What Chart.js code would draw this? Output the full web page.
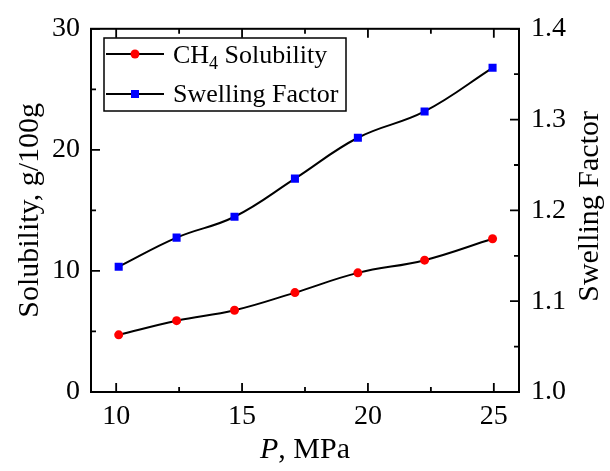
<!DOCTYPE html>
<html>
<head>
<meta charset="utf-8">
<script src="https://cdn.jsdelivr.net/npm/chart.js@4"></script>
<style>
  html, body { margin: 0; padding: 0; background: #fff; }
</style>
</head>
<body>
<canvas id="myChart" width="610" height="471"></canvas>
<script>
const pressure = [10.1, 12.4, 14.7, 17.1, 19.6, 22.25, 24.95];
const solubility = [4.72, 5.89, 6.75, 8.21, 9.84, 10.89, 12.66];
const swelling = [1.138, 1.170, 1.193, 1.235, 1.280, 1.309, 1.357];

const xTicks = [10, 15, 20, 25];
const xMinor = [12.5, 17.5, 22.5];
const yTicks = [0, 10, 20, 30];
const yMinor = [5, 15, 25];
const y1Ticks = [1.0, 1.1, 1.2, 1.3, 1.4];
const y1Minor = [1.05, 1.15, 1.25, 1.35];

const FONT = "'Liberation Serif', 'Times New Roman', serif";

const ctx = document.getElementById('myChart');

// frame, inner ticks, extra titles and the legend box
const decor = {
  id: 'decor',
  afterDraw(chart) {
    const c = chart.ctx;
    const a = chart.chartArea;
    const x = chart.scales.x, y = chart.scales.y, y1 = chart.scales.y1;
    c.save();
    c.strokeStyle = '#000';
    c.lineWidth = 2;
    c.strokeRect(a.left, a.top, a.right - a.left, a.bottom - a.top);

    c.lineWidth = 1.8;
    c.beginPath();
    const xt = (vals, len) => vals.forEach(v => {
      const px = x.getPixelForValue(v);
      c.moveTo(px, a.bottom); c.lineTo(px, a.bottom - len);
      c.moveTo(px, a.top); c.lineTo(px, a.top + len);
    });
    xt(xTicks, 9); xt(xMinor, 5);
    const yt = (vals, len) => vals.forEach(v => {
      const py = y.getPixelForValue(v);
      c.moveTo(a.left, py); c.lineTo(a.left + len, py);
    });
    yt(yTicks, 9); yt(yMinor, 5);
    const y1t = (vals, len) => vals.forEach(v => {
      const py = y1.getPixelForValue(v);
      c.moveTo(a.right, py); c.lineTo(a.right - len, py);
    });
    y1t(y1Ticks, 9); y1t(y1Minor, 5);
    c.stroke();

    // x title: italic P, then ", MPa"
    c.fillStyle = '#000';
    c.textBaseline = 'alphabetic';
    c.textAlign = 'left';
    c.font = 'italic 30px ' + FONT;
    const wP = c.measureText('P').width;
    c.font = '30px ' + FONT;
    const wR = c.measureText(', MPa').width;
    const sx = (a.left + a.right) / 2 - (wP + wR) / 2;
    c.font = 'italic 30px ' + FONT;
    c.fillText('P', sx, 458);
    c.font = '30px ' + FONT;
    c.fillText(', MPa', sx + wP, 458);

    // right title, reading bottom to top
    c.save();
    c.translate(590, (a.top + a.bottom) / 2 - 4);
    c.rotate(-Math.PI / 2);
    c.textAlign = 'center';
    c.textBaseline = 'middle';
    c.font = '30px ' + FONT;
    c.fillText('Swelling Factor', 0, 0);
    c.restore();

    // legend
    c.fillStyle = '#fff';
    c.fillRect(104, 38, 242, 73);
    c.lineWidth = 1.5;
    c.strokeStyle = '#000';
    c.strokeRect(104, 38, 242, 73);
    const rows = [{ yc: 54, color: 'red', shape: 'circle' },
                  { yc: 94, color: 'blue', shape: 'rect' }];
    rows.forEach(r => {
      c.beginPath();
      c.lineWidth = 2;
      c.strokeStyle = '#000';
      c.moveTo(106, r.yc); c.lineTo(164, r.yc);
      c.stroke();
      c.fillStyle = r.color;
      if (r.shape === 'circle') {
        c.beginPath(); c.arc(135, r.yc, 4.5, 0, Math.PI * 2); c.fill();
      } else {
        c.fillRect(131, r.yc - 4, 8, 8);
      }
    });
    c.fillStyle = '#000';
    c.font = '26px ' + FONT;
    c.fillText('CH', 173, 63);
    const wCH = c.measureText('CH').width;
    c.font = '18px ' + FONT;
    c.fillText('4', 173 + wCH, 69);
    const w4 = c.measureText('4').width;
    c.font = '26px ' + FONT;
    c.fillText(' Solubility', 173 + wCH + w4, 63);
    c.fillText('Swelling Factor', 173, 102);
    c.restore();
  }
};

new Chart(ctx, {
  type: 'line',
  data: {
    datasets: [{
      label: 'CH4 Solubility',
      data: pressure.map((p, i) => ({ x: p, y: solubility[i] })),
      yAxisID: 'y',
      borderColor: '#000',
      borderWidth: 2,
      pointStyle: 'circle',
      pointRadius: 4.5,
      pointBackgroundColor: 'red',
      pointBorderWidth: 0,
      tension: 0.4
    },
    {
      label: 'Swelling Factor',
      data: pressure.map((p, i) => ({ x: p, y: swelling[i] })),
      yAxisID: 'y1',
      borderColor: '#000',
      borderWidth: 2,
      pointStyle: 'rect',
      pointRadius: 5.7,
      pointBackgroundColor: 'blue',
      pointBorderWidth: 0,
      tension: 0.4
    }]
  },
  options: {
    responsive: false,
    animation: false,
    layout: { padding: { top: 23, left: 0, right: 0, bottom: 0 } },
    plugins: { legend: { display: false }, tooltip: { enabled: false } },
    scales: {
      x: {
        type: 'linear',
        min: 9, max: 26,
        grid: { display: false, drawTicks: false },
        border: { display: false },
        afterBuildTicks: s => { s.ticks = xTicks.map(v => ({ value: v })); },
        afterFit: s => { s.height = 79; },
        ticks: { color: '#000', padding: 8, font: { family: FONT, size: 28 }, maxRotation: 0 }
      },
      y: {
        position: 'left',
        min: 0, max: 30,
        grid: { display: false, drawTicks: false },
        border: { display: false },
        afterBuildTicks: s => { s.ticks = yTicks.map(v => ({ value: v })); },
        afterFit: s => { s.width = 91; },
        ticks: { color: '#000', padding: 11, font: { family: FONT, size: 28 } },
        title: { display: true, text: 'Solubility, g/100g', color: '#000',
                 font: { family: FONT, size: 30 }, padding: { top: 12, bottom: 0 } }
      },
      y1: {
        position: 'right',
        min: 1.0, max: 1.4,
        grid: { display: false, drawTicks: false },
        border: { display: false },
        afterBuildTicks: s => { s.ticks = y1Ticks.map(v => ({ value: v })); },
        afterFit: s => { s.width = 91; },
        ticks: { color: '#000', padding: 12, font: { family: FONT, size: 28 },
                 callback: v => Number(v).toFixed(1) }
      }
    }
  },
  plugins: [decor]
});
</script>
</body>
</html>
